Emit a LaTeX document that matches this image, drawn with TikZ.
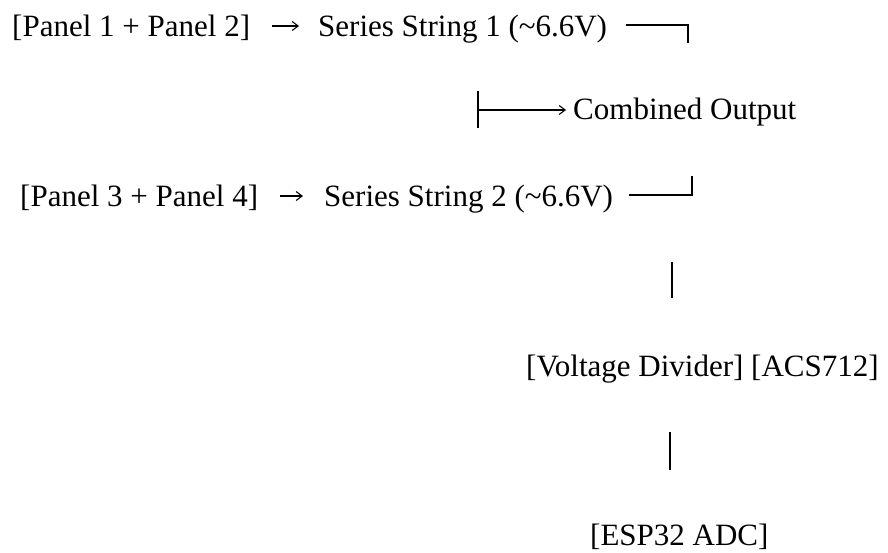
\documentclass[tikz,border=0pt]{standalone}
\usepackage{fontspec}
\setmainfont{Liberation Serif}
\usetikzlibrary{arrows.meta,calc,positioning}
\tikzset{
  lbl/.style={inner sep=0pt,anchor=base west,font=\fontsize{31}{37}\selectfont},
  wire/.style={line width=2pt},
  txtarrow/.style={line width=1.1pt,-{Straight Barb[length=6pt,width=9pt]}}
}

\begin{document}
\begin{tikzpicture}[x=1pt,y=-1pt]
  \useasboundingbox (0,0) rectangle (888,552);
  % the two strings
  \node[lbl] (p12) at (12,36) {[Panel 1 + Panel 2]};
  \node[lbl] (s1) at (318,36) {Series String 1 (\textasciitilde6.6V)};
  \node[lbl] (p34) at (20,206) {[Panel 3 + Panel 4]};
  \node[lbl] (s2) at (324,206) {Series String 2 (\textasciitilde6.6V)};
  \draw[txtarrow] ($(p12.base east)+(22,-10)$) -- ($(s1.base west)+(-19,-10)$);
  \draw[txtarrow] ($(p34.base east)+(22,-10)$) -- ($(s2.base west)+(-21,-10)$);
  % joining lines
  \coordinate (c1) at (688,25);
  \coordinate (c2) at (692,195);
  \draw[wire] ([xshift=19pt]s1.base east |- c1) -- (c1) -- ++(0,18);
  \draw[wire] ([xshift=16pt]s2.base east |- c2) -- (c2) -- ++(0,-19);
  % combined output
  \node[lbl] (comb) at (573,119) {Combined Output};
  \coordinate (jtop) at (478,91);
  \coordinate (jbot) at (478,128);
  \coordinate (jmid) at (478,110);
  \coordinate (jarr) at (537,110);
  \draw[wire] (jtop) -- (jbot);
  \draw[wire] (jmid) -- (jarr);
  \draw[txtarrow] (jarr) -- ([xshift=-7pt]comb.west |- jarr);
  % sensing and adc
  \node[lbl] (vd) at (526,376) {[Voltage Divider] [ACS712]};
  \node[lbl] (esp) at (590,545) {[ESP32 ADC]};
  \coordinate (b1top) at (672,262);
  \coordinate (b1bot) at (672,298);
  \coordinate (b2top) at (670,432);
  \coordinate (b2bot) at (670,470);
  \draw[wire] (b1top) -- (b1bot);
  \draw[wire] (b2top) -- (b2bot);
\end{tikzpicture}
\end{document}
